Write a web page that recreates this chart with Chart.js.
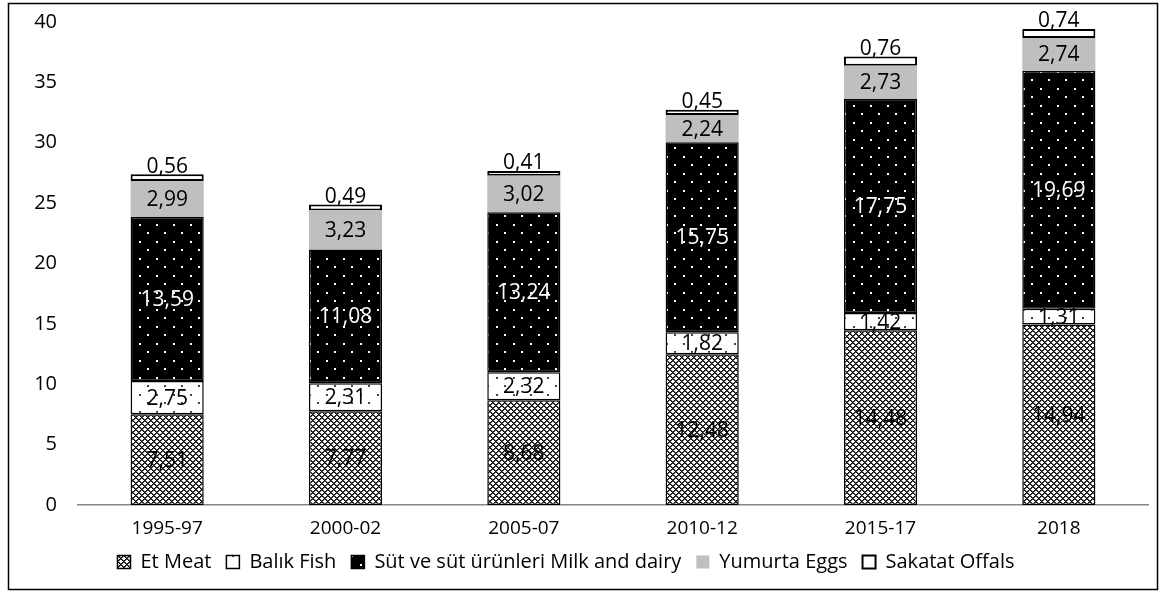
<!DOCTYPE html>
<html>
<head>
<meta charset="utf-8">
<script src="https://cdn.jsdelivr.net/npm/chart.js@4.4.1/dist/chart.umd.min.js"></script>
<style>
  html, body { margin: 0; padding: 0; background: #fff; }
  #wrap { width: 1166px; height: 592px; }
</style>
</head>
<body>
<div id="wrap"><canvas id="c" width="1166" height="592"></canvas></div>
<script>
// Per-capita protein supply by source, stacked per period
const periods = ['1995-97', '2000-02', '2005-07', '2010-12', '2015-17', '2018'];
const meat   = [7.51, 7.77, 8.68, 12.48, 14.48, 14.94];
const fish   = [2.75, 2.31, 2.32, 1.82, 1.42, 1.31];
const dairy  = [13.59, 11.08, 13.24, 15.75, 17.75, 19.69];
const eggs   = [2.99, 3.23, 3.02, 2.24, 2.73, 2.74];
const offals = [0.56, 0.49, 0.41, 0.45, 0.76, 0.74];
const seriesNames = ['Et Meat', 'Balık Fish', 'Süt ve süt ürünleri Milk and dairy', 'Yumurta Eggs', 'Sakatat Offals'];
const yMin = 0, yMax = 40, yStep = 5;

const FONT = '"Open Sans", "Noto Sans", sans-serif';
const ctx = document.getElementById('c').getContext('2d');

// Fill patterns
function makeTile(w, h, draw) {
  const t = document.createElement('canvas');
  t.width = w; t.height = h;
  draw(t.getContext('2d'));
  return ctx.createPattern(t, 'repeat');
}
// Diagonal crosshatch for meat
const meatPattern = makeTile(6, 6, g => {
  g.fillStyle = '#fff'; g.fillRect(0, 0, 6, 6);
  for (let y = 0; y < 6; y++) for (let x = 0; x < 6; x++) {
    const a = (x + y) % 6, b = (x - y + 6) % 6;
    if (a === 0 || b === 0) { g.fillStyle = '#000'; g.fillRect(x, y, 1, 1); }
    else if (a === 1 || b === 1) { g.fillStyle = '#555'; g.fillRect(x, y, 1, 1); }
  }
});
// Sparse staggered dots
function dots(bg, fg) {
  return makeTile(17, 17, g => {
    g.fillStyle = bg; g.fillRect(0, 0, 17, 17);
    g.fillStyle = fg;
    g.fillRect(3, 3, 2, 2);
    g.fillRect(11, 11, 2, 2);
  });
}
const fishPattern = dots('#fff', '#444');
const dairyPattern = dots('#000', '#fff');

const fmt = v => v.toFixed(2).replace('.', ',');

// Value labels: centred in each segment, above the bar for the top series
const valueLabels = {
  id: 'valueLabels',
  afterDatasetsDraw(chart) {
    const c = chart.ctx;
    c.save();
    c.font = '21px ' + FONT;
    c.textAlign = 'center';
    chart.data.datasets.forEach((ds, di) => {
      const meta = chart.getDatasetMeta(di);
      meta.data.forEach((el, i) => {
        const p = el.getProps(['x', 'y', 'base'], true);
        const txt = fmt(ds.data[i]);
        c.fillStyle = ds.labelColor;
        if (ds.labelAbove) {
          c.textBaseline = 'bottom';
          c.fillText(txt, p.x, p.y + 3);
        } else {
          c.textBaseline = 'middle';
          c.fillText(txt, p.x, (p.y + p.base) / 2 + 1);
        }
      });
    });
    c.restore();
  }
};

// White background, outer frame, and a slight leftward nudge of the legend row
const frame = {
  id: 'frame',
  afterLayout(chart) {
    if (chart.legend) { chart.legend.left -= 13; chart.legend.right -= 13; }
  },
  beforeDraw(chart) {
    const c = chart.ctx;
    c.save();
    c.fillStyle = '#fff';
    c.fillRect(0, 0, chart.width, chart.height);
    c.restore();
  },
  afterDraw(chart) {
    const c = chart.ctx;
    c.save();
    c.strokeStyle = '#000';
    c.lineWidth = 1.5;
    c.strokeRect(8.5, 3.5, 1149, 586);
    c.restore();
  }
};

const values = [meat, fish, dairy, eggs, offals];
const fills = [meatPattern, fishPattern, dairyPattern, '#bfbfbf', '#fff'];
const borders = ['#000', '#000', '#000', '#bfbfbf', '#000'];
const borderWidths = [1.5, 1.5, 1.5, 0, 2];
const labelColors = ['#000', '#000', '#fff', '#000', '#000'];

new Chart(ctx, {
  type: 'bar',
  data: {
    labels: periods,
    datasets: values.map((v, k) => ({
      label: seriesNames[k],
      data: v,
      backgroundColor: fills[k],
      borderColor: borders[k],
      borderWidth: borderWidths[k],
      borderSkipped: false,
      labelColor: labelColors[k],
      labelAbove: k === values.length - 1,
      categoryPercentage: 1,
      barPercentage: 0.41
    }))
  },
  options: {
    responsive: false,
    animation: false,
    devicePixelRatio: 1,
    layout: { padding: { left: 10, right: 18, top: 22, bottom: 10 } },
    plugins: {
      legend: {
        position: 'bottom',
        labels: {
          font: { family: FONT, size: 20 },
          color: '#000',
          boxWidth: 13,
          boxHeight: 13,
          padding: 15
        }
      },
      tooltip: { enabled: false }
    },
    scales: {
      x: {
        stacked: true,
        grid: { display: false, drawTicks: false },
        border: { display: true, color: '#868686', width: 1.5 },
        ticks: { font: { family: FONT, size: 19 }, color: '#000', padding: 12 },
        afterFit(scale) { scale.height = 32; }
      },
      y: {
        stacked: true,
        min: yMin,
        max: yMax,
        grid: { display: false, drawTicks: true, tickLength: 21, color: 'rgba(0,0,0,0)' },
        border: { display: false },
        ticks: { stepSize: yStep, font: { family: FONT, size: 20 }, color: '#000', padding: 0 },
        afterFit(scale) { scale.width = 68; }
      }
    }
  },
  plugins: [frame, valueLabels]
});
</script>
</body>
</html>
